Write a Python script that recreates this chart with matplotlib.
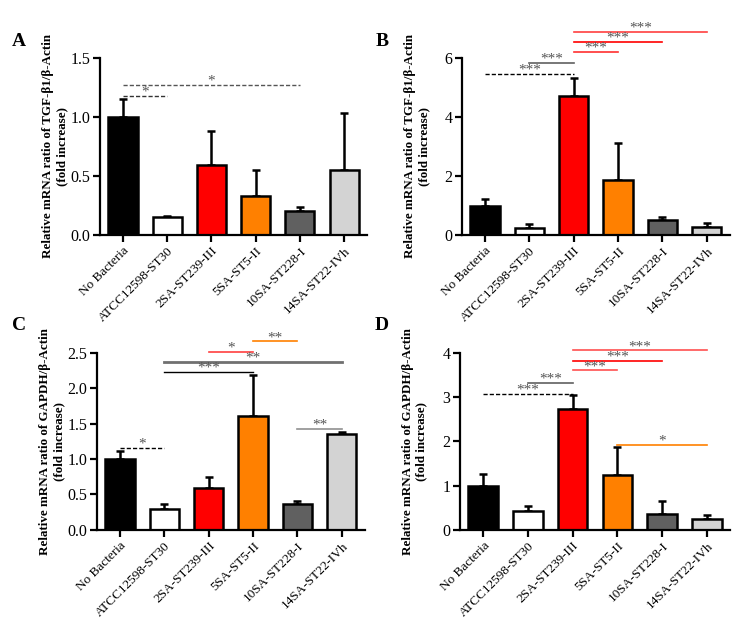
import numpy as np
from matplotlib import pyplot as plt

plt.rcParams["font.family"] = ["Liberation Serif", "DejaVu Serif"]

groups = ["No Bacteria", "ATCC12598-ST30", "2SA-ST239-III", "5SA-ST5-II", "10SA-ST228-I", "14SA-ST22-IVh"]
bar_colors = ["#000000", "#ffffff", "#ff0000", "#ff8000", "#606060", "#d3d3d3"]

# panel A: TGF-b1 (ylim 1.5)
A_mean = [1.0, 0.15, 0.59, 0.335, 0.2, 0.555]
A_sem = [0.15, 0.015, 0.29, 0.215, 0.035, 0.475]
# panel B: TGF-b1 (ylim 6)
B_mean = [1.0, 0.25, 4.7, 1.85, 0.5, 0.27]
B_sem = [0.22, 0.13, 0.63, 1.28, 0.12, 0.13]
# panel C: GAPDH (ylim 2.5)
C_mean = [1.0, 0.29, 0.59, 1.61, 0.36, 1.35]
C_sem = [0.11, 0.08, 0.16, 0.57, 0.05, 0.03]
# panel D: GAPDH (ylim 4)
D_mean = [1.0, 0.42, 2.73, 1.24, 0.36, 0.25]
D_sem = [0.27, 0.13, 0.32, 0.63, 0.30, 0.09]

# significance: (group i, group j, height, stars, colour, linestyle, linewidth)
A_sig = [(0, 1, 1.18, "*", "#333333", "--", 1.0),
         (0, 4, 1.27, "*", "#555555", "--", 1.0)]
B_sig = [(0, 2, 5.46, "***", "#000000", "--", 1.0),
         (1, 2, 5.83, "***", "#606060", "-", 1.2),
         (2, 3, 6.20, "***", "#ff3030", "-", 1.2),
         (2, 4, 6.54, "***", "#ff0000", "-", 1.2),
         (2, 5, 6.88, "***", "#ff4040", "-", 1.2)]
C_sig = [(0, 1, 1.16, "*", "#000000", "--", 1.0),
         (1, 3, 2.23, "***", "#000000", "-", 1.0),
         (1, 5, 2.37, "**", "#707070", "-", 2.0),
         (2, 3, 2.51, "*", "#ff4040", "-", 1.2),
         (3, 4, 2.66, "**", "#ff8000", "-", 1.2),
         (4, 5, 1.43, "**", "#909090", "-", 1.2)]
D_sig = [(0, 2, 3.07, "***", "#000000", "--", 1.0),
         (1, 2, 3.32, "***", "#606060", "-", 1.2),
         (2, 3, 3.60, "***", "#ff5050", "-", 1.2),
         (2, 4, 3.82, "***", "#ff0000", "-", 1.2),
         (2, 5, 4.05, "***", "#ff5050", "-", 1.2),
         (3, 5, 1.92, "*", "#ff8000", "-", 1.2)]

tgf_label = "Relative mRNA ratio of TGF-\u03b21/\u03b2-Actin\n(fold increase)"
gapdh_label = "Relative mRNA ratio of GAPDH/\u03b2-Actin\n(fold increase)"


def panel(ax, mean, sem, sig, ymax, ticks, fmt, ylabel):
    x = np.arange(len(groups))
    ax.errorbar(x, mean, yerr=[np.zeros(len(sem)), sem], fmt="none", ecolor="black",
                elinewidth=1.8, capsize=2.8, capthick=1.8, zorder=1)
    ax.bar(x, mean, width=0.66, color=bar_colors, edgecolor="black", linewidth=1.8, zorder=2)
    ax.set_xlim(-0.52, len(groups) - 0.48)
    ax.set_ylim(0, ymax)
    ax.set_yticks(ticks)
    ax.set_yticklabels([fmt.format(t) for t in ticks], fontsize=11.5)
    ax.set_xticks(x)
    ax.set_xticklabels(groups, rotation=45, ha="right", rotation_mode="anchor", fontsize=9.5)
    for s in ["top", "right"]:
        ax.spines[s].set_visible(False)
    for s in ["left", "bottom"]:
        ax.spines[s].set_linewidth(1.6)
    ax.tick_params(width=1.6, length=5, direction="out", pad=2)
    ax.set_ylabel(ylabel, fontsize=9.4, fontweight="bold", linespacing=1.2)
    ax.yaxis.set_label_coords(-0.12, 0.5)
    for i, j, h, stars, c, ls, lw in sig:
        ax.plot([i, j], [h, h], color=c, ls=ls, lw=lw, clip_on=False,
                dashes=(3, 1.5) if ls == "--" else (None, None))
        ax.annotate(stars, ((i + j) / 2, h), xytext=(0, -2), textcoords="offset points",
                    ha="center", va="bottom", fontsize=11, color="#555555", annotation_clip=False)


fig = plt.figure(figsize=(7.4, 6.22), dpi=100)
axA = fig.add_axes([0.1351, 0.622, 0.361, 0.285])
axB = fig.add_axes([0.6243, 0.622, 0.362, 0.285])
axC = fig.add_axes([0.1311, 0.148, 0.362, 0.285])
axD = fig.add_axes([0.6216, 0.148, 0.365, 0.285])

panel(axA, A_mean, A_sem, A_sig, 1.5, [0, 0.5, 1.0, 1.5], "{:.1f}", tgf_label)
panel(axB, B_mean, B_sem, B_sig, 6, [0, 2, 4, 6], "{:d}", tgf_label)
panel(axC, C_mean, C_sem, C_sig, 2.5, [0, 0.5, 1.0, 1.5, 2.0, 2.5], "{:.1f}", gapdh_label)
panel(axD, D_mean, D_sem, D_sig, 4, [0, 1, 2, 3, 4], "{:d}", gapdh_label)

for letter, (lx, ly) in zip("ABCD", [(19, 42), (382, 42), (19, 326), (382, 326)]):
    fig.text(lx / 740, 1 - ly / 622, letter, fontsize=14, fontweight="bold", ha="center", va="center")

fig.savefig("out.png", dpi=100)
